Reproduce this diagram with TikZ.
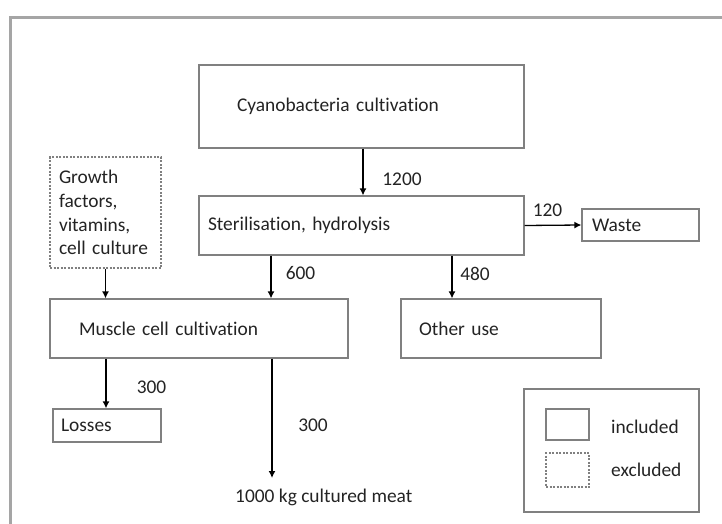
\documentclass[tikz,border=0pt]{standalone}
\usepackage{fontspec}
\setmainfont{Carlito}[Ligatures={NoCommon, NoRare, NoContextual}]
\usetikzlibrary{calc, arrows.meta, positioning}
\tikzset{>={Latex[length=7pt,width=7pt]}}
\definecolor{mygray1}{RGB}{128, 128, 128}
\definecolor{mygray2}{RGB}{165, 165, 165}
\definecolor{mytext}{RGB}{35, 35, 35}

\tikzset{
  stage/.style={draw=mygray1, line width=1.2pt, rectangle, align=left, text=mytext, inner ysep=0pt},
  extern/.style={stage, dash pattern=on 2pt off 1.5pt},
  flow/.style={->, line width=1.3pt},
  bigflow/.style={->, line width=1.8pt},
  amount/.style={text=mytext, inner sep=0pt}
}

\begin{document}
\begin{tikzpicture}[x=1pt, y=-1pt, font=\fontsize{19.4}{23.7}\selectfont]
\useasboundingbox (0,0) rectangle (722,524);

% outer frame (only top and left edges show)
\draw[mygray2, line width=3pt] (10,524) -- (10,17.5) -- (722,17.5);




% process boxes
\node[stage, minimum width=325, minimum height=83, inner xsep=38, text width=249] (cyano) at (361.5,106.5) {Cyanobacteria cultivation};
\node[stage, minimum width=325, minimum height=59, inner xsep=9, text width=307] (steril) at (361.5,225.5) {Sterilisation, hydrolysis};
\node[stage, minimum width=117, minimum height=32, inner xsep=10, text width=97] (waste) at (640.5,225) {Waste};
\node[extern, minimum width=111, minimum height=111, inner xsep=9, text width=93] (growth) at (105.5,212.5) {Growth\\factors,\\vitamins,\\cell culture};
\node[stage, minimum width=298, minimum height=59, inner xsep=29, text width=240] (muscle) at (199,328.5) {Muscle cell cultivation};
\node[stage, minimum width=200, minimum height=59, inner xsep=18, text width=164] (other) at (501,328.5) {Other use};
\node[stage, minimum width=108, minimum height=33, inner xsep=8, text width=92] (losses) at (107,425.5) {Losses};
\node[amount, anchor=west] (meat) at (235,497) {1000 kg cultured meat};
\coordinate (meatend) at (272,478);




% flows
\draw[flow] (363,0 |- cyano.south) -- (363,0 |- steril.north);
\draw[flow] (steril.east) -- (waste.west);
\draw[flow] (growth.south) -- (growth.south |- muscle.north);
\draw[flow] (271,0 |- steril.south) -- (271,0 |- muscle.north);
\draw[flow] (452,0 |- steril.south) -- (452,0 |- other.north);
\draw[bigflow] (106,0 |- muscle.south) -- (106,0 |- losses.north);
\draw[bigflow] (272,0 |- muscle.south) -- (meatend);

\node[amount] (q1200) at (402,179) {1200};
\node[amount] (q120) at (547.5,210) {120};
\node[amount] (q600) at (300.5,273) {600};
\node[amount] (q480) at (475,274) {480};
\node[amount] (q300a) at (151.5,387) {300};
\node[amount] (q300b) at (313,425) {300};




% legend
\node[stage, minimum width=175, minimum height=123] (legend) at (611.5,450.5) {};
\node[stage, minimum width=43, minimum height=31] (legin) at (567.5,424.5) {};
\node[extern, minimum width=43, minimum height=34] (legex) at (567.5,470) {};
\node[amount, anchor=west] (legintext) at (611,427) {included};
\node[amount, anchor=west] (legextext) at (611,470) {excluded};
\end{tikzpicture}
\end{document}
